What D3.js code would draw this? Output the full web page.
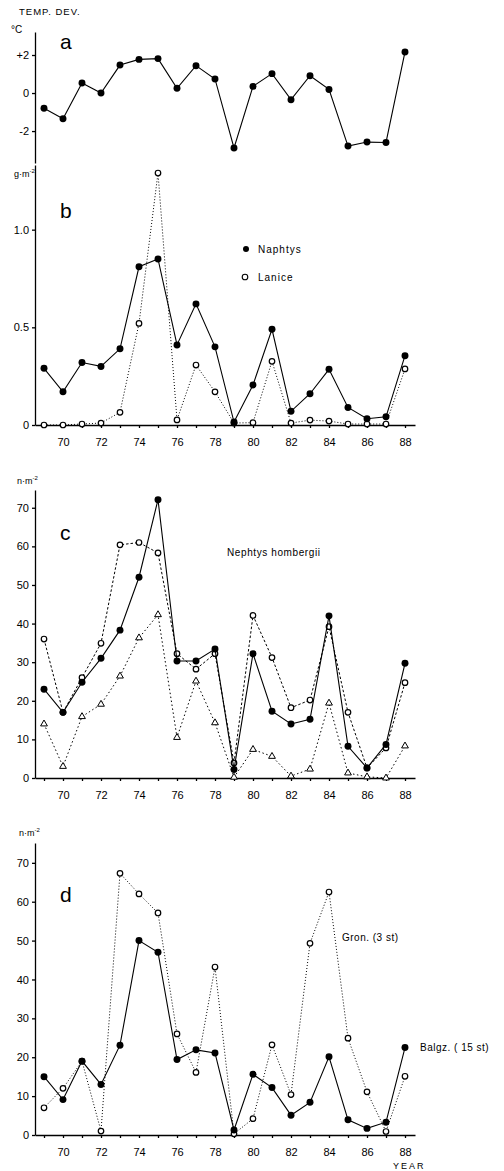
<!DOCTYPE html>
<html>
<head>
<meta charset="utf-8">
<script src="https://cdn.jsdelivr.net/npm/d3@7"></script>
<style>
  body { margin: 0; background: #fff; }
  svg { display: block; font-family: "Liberation Sans", Arial, sans-serif; }
  .axis path, .axis line { stroke: #000; stroke-width: 1.3; }
  .axis text { font-size: 11px; fill: #000; }
</style>
</head>
<body>
<svg class="chart"></svg>
<script>
// values
var years = [69,70,71,72,73,74,75,76,77,78,79,80,81,82,83,84,85,86,87,88];
var yearTicks = [70,72,74,76,78,80,82,84,86,88];

// a: temperature deviation
var tempDev = [-0.8,-1.35,0.53,0,1.47,1.77,1.81,0.25,1.44,0.74,-2.89,0.35,1.02,-0.35,0.91,0.19,-2.79,-2.58,-2.6,2.16];

// b: biomass g.m-2
var naphtysBio = [0.29,0.17,0.32,0.30,0.39,0.81,0.85,0.41,0.62,0.40,0.015,0.205,0.49,0.07,0.16,0.285,0.09,0.032,0.042,0.355];
var laniceBio = [0,0,0.005,0.01,0.065,0.52,1.29,0.026,0.307,0.17,0.01,0.012,0.326,0.01,0.025,0.02,0.005,0.005,0.005,0.287];

// c: Nephtys hombergii n.m-2, three series
var cFilled = [23,17,24.8,31,38.3,52,72.1,30.3,30.3,33.4,2.2,32.2,17.3,14,15.2,42,8.2,2.6,8.7,29.7];
var cOpen = [36,17,26,34.9,60.4,61,58.3,32.2,28.2,32.2,3.9,42.1,31.2,18.2,20.2,39.2,17,2.6,7.8,24.7];
var cTri = [14,3,15.9,19.1,26.4,36.3,42.3,10.5,25.1,14.3,0.2,7.4,5.6,0.5,2.3,19.4,1.3,0.3,0,8.3];

// d: Balgzand (15 st) and Groningen (3 st)
var balgz = [15,9.1,19,13,23.1,50,47,19.4,21.9,21.1,1.3,15.6,12.2,5.1,8.4,20.1,3.9,1.7,3.3,22.5];
var gron = [7,12,19,1,67.3,62,57.1,26,16.1,43.2,0.3,4.2,23.2,10.4,49.3,62.5,24.9,11.1,0.9,15.1];

var width = 504, height = 1171;
var svg = d3.select(".chart").attr("width", width).attr("height", height);

var x = d3.scaleLinear().domain([69, 88]).range([44, 405]);
var axisLeft = 35, axisRight = 415;

var yA = d3.scaleLinear().domain([-3.68, 3.21]).range([163, 32]);
var yB = d3.scaleLinear().domain([0, 1.331]).range([425, 165]);
var yC = d3.scaleLinear().domain([0, 74.6]).range([778, 490]);
var yD = d3.scaleLinear().domain([0, 75.1]).range([1135, 843]);

function yAxis(y, vals, fmt) {
  var g = svg.append("g").attr("class", "axis")
    .attr("transform", "translate(" + axisLeft + ",0)")
    .call(d3.axisLeft(y).tickValues(vals).tickFormat(fmt).tickSize(3).tickSizeOuter(0).tickPadding(3));
  return g;
}

function xAxis(y0) {
  var xs = d3.scaleLinear().domain([x.invert(axisLeft), x.invert(axisRight)]).range([axisLeft, axisRight]);
  var g = svg.append("g").attr("class", "axis")
    .attr("transform", "translate(0," + y0 + ")")
    .call(d3.axisBottom(xs).tickValues(years).tickSize(3).tickSizeOuter(0).tickPadding(10)
      .tickFormat(function(d){ return yearTicks.indexOf(d) >= 0 ? d : ""; }));
  g.select(".domain").attr("stroke-width", 1.6);
  return g;
}

function series(vals, y, dash, marker) {
  var line = d3.line().x(function(d, i){ return x(years[i]); }).y(function(d){ return y(d); });
  svg.append("path").datum(vals)
    .attr("d", line)
    .attr("fill", "none")
    .attr("stroke", "#000")
    .attr("stroke-width", dash ? 1 : 1.1)
    .attr("stroke-dasharray", dash);
  var pts = svg.append("g").selectAll("path").data(vals).enter().append("path")
    .attr("transform", function(d, i){ return "translate(" + x(years[i]) + "," + y(d) + ")"; });
  if (marker == "filled") {
    pts.attr("d", d3.symbol().type(d3.symbolCircle).size(38)).attr("fill", "#000");
  } else if (marker == "open") {
    pts.attr("d", d3.symbol().type(d3.symbolCircle).size(24)).attr("fill", "#fff").attr("stroke", "#000").attr("stroke-width", 1.2);
  } else {
    pts.attr("d", d3.symbol().type(d3.symbolTriangle).size(20)).attr("fill", "#fff").attr("stroke", "#000").attr("stroke-width", 1);
  }
}

function label(txt, px, py, size, anchor) {
  return svg.append("text").attr("x", px).attr("y", py)
    .attr("font-size", size).attr("text-anchor", anchor || "start").attr("fill", "#000").text(txt);
}

// panel a
yAxis(yA, [2, 0, -2], function(d){ return d > 0 ? "+" + d : d; });
series(tempDev, yA, null, "filled");
label("TEMP. DEV.", 19, 15, "9.5px").attr("letter-spacing", "1px");
label("°C", 11, 33, "10px");
label("a", 60, 49, "21px");

// panel b
yAxis(yB, [0, 0.5, 1.0], function(d){ return d == 0 ? "0" : d3.format(".1f")(d); });
xAxis(425);
series(laniceBio, yB, "1,2", "open");
series(naphtysBio, yB, null, "filled");
label("b", 60, 218, "21px");
svg.append("text").attr("x", 14).attr("y", 177).attr("font-size", "9px").html('g·m<tspan dy="-4" font-size="6px">-2</tspan>');
svg.append("circle").attr("cx", 246).attr("cy", 249).attr("r", 3).attr("fill", "#000");
label("Naphtys", 258, 253, "10px").attr("letter-spacing", "1px");
svg.append("circle").attr("cx", 245).attr("cy", 277).attr("r", 2.8).attr("fill", "#fff").attr("stroke", "#000").attr("stroke-width", 1.1);
label("Lanice", 258, 281, "10px").attr("letter-spacing", "1px");

// panel c
yAxis(yC, d3.range(0, 71, 10), d3.format("d"));
xAxis(778);
series(cTri, yC, "1.5,2.5", "tri");
series(cOpen, yC, "2.5,2", "open");
series(cFilled, yC, null, "filled");
label("c", 60, 540, "21px");
svg.append("text").attr("x", 17).attr("y", 484).attr("font-size", "9px").html('n·m<tspan dy="-4" font-size="6px">-2</tspan>');
label("Nephtys hombergii", 227, 556, "10px").attr("letter-spacing", "0.6px");

// panel d
yAxis(yD, d3.range(0, 71, 10), d3.format("d"));
xAxis(1135);
series(gron, yD, "1,2", "open");
series(balgz, yD, null, "filled");
label("d", 60, 902, "21px");
svg.append("text").attr("x", 19).attr("y", 836).attr("font-size", "9px").html('n·m<tspan dy="-4" font-size="6px">-2</tspan>');
label("Gron. (3 st)", 342, 941, "10px").attr("letter-spacing", "0.5px");
label("Balgz. ( 15 st)", 420, 1051, "10px").attr("letter-spacing", "0.5px");
label("YEAR", 393, 1169, "9px").attr("letter-spacing", "2px");
</script>
</body>
</html>
